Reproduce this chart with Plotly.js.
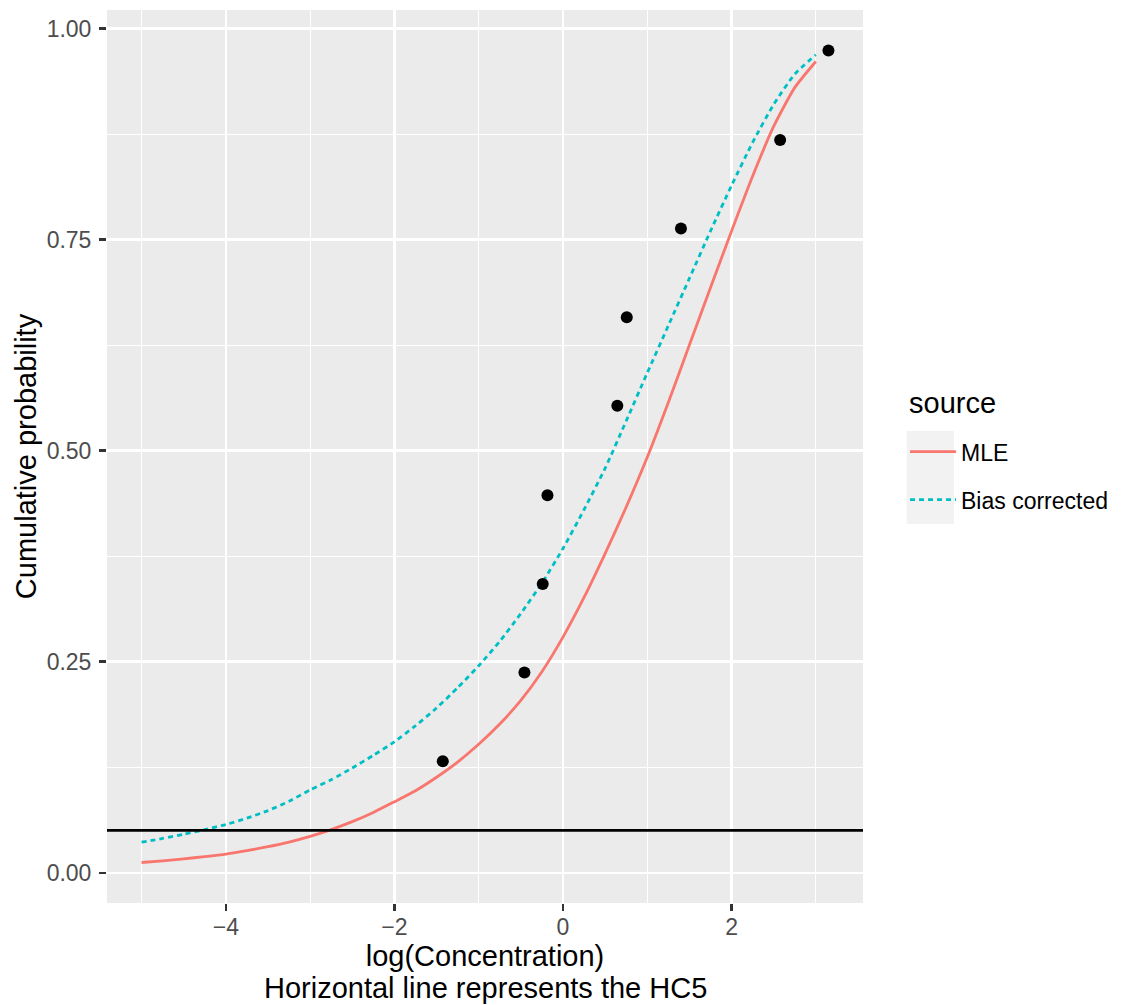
<!DOCTYPE html>
<html>
<head>
<meta charset="utf-8">
<script src="https://cdn.plot.ly/plotly-3.0.1.min.js"></script>
<style>html,body{margin:0;padding:0;background:#fff;}</style>
</head>
<body>
<div id="chart" style="width:1124px;height:1005px;"></div>
<script>
// Fitted curves (log concentration vs cumulative probability)
const curveX = [-5,-4.75,-4.5,-4.25,-4,-3.75,-3.5,-3.25,-3,-2.75,-2.5,-2.25,-2,-1.75,-1.5,-1.25,-1,-0.75,-0.5,-0.25,0,0.25,0.5,0.75,1,1.25,1.5,1.75,2,2.25,2.5,2.75,3];
const mleProb = [0.012,0.014,0.0163,0.019,0.022,0.026,0.0307,0.0362,0.043,0.051,0.0604,0.0713,0.084,0.097,0.113,0.131,0.152,0.176,0.204,0.238,0.279,0.326,0.378,0.433,0.492,0.557,0.625,0.693,0.760,0.825,0.884,0.930,0.961];
const biasProb = [0.036,0.0405,0.0455,0.051,0.057,0.0645,0.0735,0.0845,0.098,0.110,0.124,0.139,0.155,0.174,0.195,0.219,0.245,0.274,0.307,0.343,0.384,0.430,0.479,0.535,0.592,0.648,0.704,0.760,0.814,0.865,0.910,0.946,0.969];

// Observed data points
const obsX = [-1.426,-0.457,-0.240,-0.184,0.645,0.757,1.400,2.577,3.150];
const obsP = [0.132,0.237,0.342,0.447,0.553,0.658,0.763,0.868,0.974];

// HC5 level
const hc5 = 0.05;

const seriesNames = ['MLE','Bias corrected'];
const legendTitle = 'source';
const xTitle = 'log(Concentration)';
const xSubtitle = 'Horizontal line represents the HC5';
const yTitle = 'Cumulative probability';
const xTicks = [-4,-2,0,2];
const xTickText = ['\u22124','\u22122','0','2'];
const xMinor = [-5,-3,-1,1,3];
const yTicks = [0,0.25,0.5,0.75,1];
const yTickText = ['0.00','0.25','0.50','0.75','1.00'];
const yMinor = [0.125,0.375,0.625,0.875];

const FONT = 'Liberation Sans, Arial, Helvetica, sans-serif';

const traces = [
  {x: curveX, y: mleProb, type: 'scatter', mode: 'lines', name: seriesNames[0],
   legendgroup: 'g1', line: {color: '#F8766D', width: 2.8, shape: 'spline', smoothing: 0.6}},
  {x: curveX, y: biasProb, type: 'scatter', mode: 'lines', name: seriesNames[1],
   legendgroup: 'g2', line: {color: '#00BFC4', width: 2.8, dash: '5px,4px', shape: 'spline', smoothing: 0.6}},
  {x: obsX, y: obsP, type: 'scatter', mode: 'markers', showlegend: false,
   marker: {color: '#000000', size: 12}}
];

const axisCommon = {
  showgrid: true, gridcolor: '#FFFFFF', gridwidth: 2.2,
  zeroline: false, showline: false,
  ticks: 'outside', ticklen: 7, tickwidth: 2.2, tickcolor: '#333333',
  tickfont: {family: FONT, size: 23, color: '#4D4D4D'},
  tickmode: 'array'
};

const layout = {
  width: 1124, height: 1005,
  margin: {l: 107, r: 261, t: 10, b: 102},
  paper_bgcolor: '#FFFFFF', plot_bgcolor: '#EBEBEB',
  font: {family: FONT, color: '#000000'},
  xaxis: Object.assign({}, axisCommon, {
    range: [-5.41, 3.56], tickvals: xTicks, ticktext: xTickText,
    ticklabelstandoff: -4,
    minor: {tickmode: 'array', tickvals: xMinor, showgrid: true, gridcolor: '#FFFFFF', gridwidth: 1.1, ticks: ''},
    title: {text: xTitle, font: {family: FONT, size: 29, color: '#000000'}, standoff: 6}
  }),
  yaxis: Object.assign({}, axisCommon, {
    range: [-0.036, 1.022], tickvals: yTicks, ticktext: yTickText,
    ticklabelstandoff: 3,
    minor: {tickmode: 'array', tickvals: yMinor, showgrid: true, gridcolor: '#FFFFFF', gridwidth: 1.1, ticks: ''},
    title: {text: yTitle, font: {family: FONT, size: 29, color: '#000000'}, standoff: 1}
  }),
  legend: {
    font: {family: FONT, size: 23, color: '#000000'},
    x: 1.0556, y: 0.5294, xanchor: 'left', yanchor: 'top',
    bgcolor: 'rgba(0,0,0,0)', tracegroupgap: 15, itemwidth: 46
  },
  annotations: [
    {text: xSubtitle, xref: 'paper', yref: 'paper', x: 0.5, y: -0.0952,
     xanchor: 'center', yanchor: 'middle', showarrow: false, borderpad: 0,
     font: {family: FONT, size: 29, color: '#000000'}},
    {text: legendTitle, xref: 'paper', yref: 'paper', x: 1.0582, y: 0.560,
     xanchor: 'left', yanchor: 'middle', showarrow: false,
     font: {family: FONT, size: 29, color: '#000000'}}
  ],
  shapes: [
    {type: 'line', xref: 'paper', x0: 0, x1: 1, yref: 'y', y0: hc5, y1: hc5,
     line: {color: '#000000', width: 2.8}, layer: 'above'},
    {type: 'rect', xref: 'paper', yref: 'paper', x0: 1.0578, x1: 1.1204, y0: 0.4244, y1: 0.5286,
     fillcolor: '#F2F2F2', line: {width: 0}, layer: 'below'}
  ],
  showlegend: true
};

Plotly.newPlot('chart', traces, layout, {displayModeBar: false, staticPlot: true});
</script>
</body>
</html>
